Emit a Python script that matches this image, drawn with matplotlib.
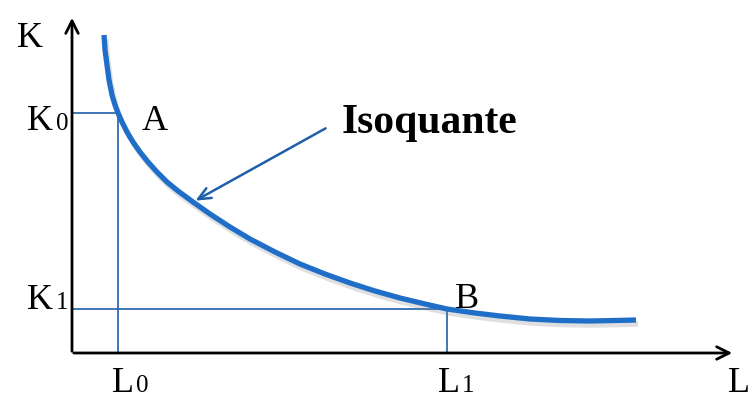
import matplotlib
matplotlib.use('Agg')
import matplotlib.pyplot as plt
import matplotlib.patheffects as pe

plt.rcParams['font.family'] = ['Liberation Serif', 'DejaVu Serif']

# isoquant curve (origin at the axes corner, units ~ pixels)
L = [32, 33, 35, 37, 40, 43, 46, 50, 55, 61, 68, 76, 85, 95, 106, 121, 138, 158,
     178, 203, 228, 253, 278, 303, 328, 353, 375, 403, 428, 458, 488, 518, 543, 564]
K = [318, 303, 288, 273, 258, 248, 240, 231, 221, 211, 201, 191, 181, 171, 162, 151,
     139, 126, 114, 101, 89, 79, 70, 62, 55, 49, 44, 40, 37, 34, 32.5, 32, 32.5, 33]

L0, K0 = 46, 240
L1, K1 = 375, 44

blue = '#1f6fc8'
guide = '#1f5fa8'

fig = plt.figure(figsize=(7.53, 3.99), dpi=100)
ax = fig.add_axes([0, 0, 1, 1])
ax.set_xlim(-72, 681)
ax.set_ylim(-46, 353)
ax.axis('off')

# axes with open arrow heads
ax.annotate('', xy=(0, 338), xytext=(0, -1),
            arrowprops=dict(arrowstyle='->,head_length=0.9,head_width=0.45', lw=2, color='black'))
ax.annotate('', xy=(663, 0), xytext=(-1, 0),
            arrowprops=dict(arrowstyle='->,head_length=0.9,head_width=0.45', lw=2, color='black'))

# guide lines
ax.plot([0, L0, L0], [K0, K0, 0], color=guide, lw=1.2)
ax.plot([0, L1, L1], [K1, K1, 0], color=guide, lw=1.2)

# curve with soft shadow
ax.plot(L, K, color=blue, lw=3.8, solid_capstyle='butt', solid_joinstyle='round',
        path_effects=[pe.SimpleLineShadow(offset=(1.5, -3), shadow_color='gray', alpha=0.25),
                      pe.Normal()])

# pointer to the curve
ax.annotate('', xy=(121, 151), xytext=(256, 226),
            arrowprops=dict(arrowstyle='->,head_length=0.9,head_width=0.4', lw=1.8, color=guide))

big = 26
small = 18
ax.text(-55, 306, 'K', fontsize=big, va='baseline')
ax.text(-45, 223, 'K', fontsize=big, va='baseline')
ax.text(-16, 223, '0', fontsize=small, va='baseline')
ax.text(-45, 44, 'K', fontsize=big, va='baseline')
ax.text(-16, 44, '1', fontsize=small, va='baseline')
ax.text(70, 223, 'A', fontsize=big, va='baseline')
ax.text(383, 45, 'B', fontsize=big, va='baseline')
ax.text(40, -39, 'L', fontsize=big, va='baseline')
ax.text(64, -39, '0', fontsize=small, va='baseline')
ax.text(366, -39, 'L', fontsize=big, va='baseline')
ax.text(390, -39, '1', fontsize=small, va='baseline')
ax.text(656, -39, 'L', fontsize=big, va='baseline')
ax.text(270, 220, 'Isoquante', fontsize=30, fontweight='bold', va='baseline')

fig.savefig('out.png', dpi=100)
